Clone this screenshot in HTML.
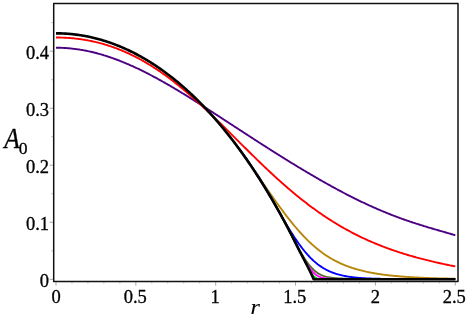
<!DOCTYPE html>
<html><head><meta charset="utf-8"><style>
html,body{margin:0;padding:0;background:#fff;}
svg{display:block;will-change:transform}
.t{font-family:"Liberation Serif",serif;font-size:18.5px;fill:#000;stroke:#000;stroke-width:0.3px}
.i{font-family:"Liberation Serif",serif;font-style:italic;fill:#000;stroke:#000;stroke-width:0.3px}
</style></head><body>
<svg width="469" height="318" viewBox="0 0 469 318">
<rect width="469" height="318" fill="#fff"/>
<line x1="56.00" y1="281.9" x2="56.00" y2="285.6" stroke="#a8a8a8" stroke-width="1"/>
<line x1="71.97" y1="281.9" x2="71.97" y2="283.8" stroke="#cccccc" stroke-width="1"/>
<line x1="87.94" y1="281.9" x2="87.94" y2="283.8" stroke="#cccccc" stroke-width="1"/>
<line x1="103.91" y1="281.9" x2="103.91" y2="283.8" stroke="#cccccc" stroke-width="1"/>
<line x1="119.88" y1="281.9" x2="119.88" y2="283.8" stroke="#cccccc" stroke-width="1"/>
<line x1="135.85" y1="281.9" x2="135.85" y2="285.6" stroke="#a8a8a8" stroke-width="1"/>
<line x1="151.82" y1="281.9" x2="151.82" y2="283.8" stroke="#cccccc" stroke-width="1"/>
<line x1="167.79" y1="281.9" x2="167.79" y2="283.8" stroke="#cccccc" stroke-width="1"/>
<line x1="183.76" y1="281.9" x2="183.76" y2="283.8" stroke="#cccccc" stroke-width="1"/>
<line x1="199.73" y1="281.9" x2="199.73" y2="283.8" stroke="#cccccc" stroke-width="1"/>
<line x1="215.70" y1="281.9" x2="215.70" y2="285.6" stroke="#a8a8a8" stroke-width="1"/>
<line x1="231.67" y1="281.9" x2="231.67" y2="283.8" stroke="#cccccc" stroke-width="1"/>
<line x1="247.64" y1="281.9" x2="247.64" y2="283.8" stroke="#cccccc" stroke-width="1"/>
<line x1="263.61" y1="281.9" x2="263.61" y2="283.8" stroke="#cccccc" stroke-width="1"/>
<line x1="279.58" y1="281.9" x2="279.58" y2="283.8" stroke="#cccccc" stroke-width="1"/>
<line x1="295.55" y1="281.9" x2="295.55" y2="285.6" stroke="#a8a8a8" stroke-width="1"/>
<line x1="311.52" y1="281.9" x2="311.52" y2="283.8" stroke="#cccccc" stroke-width="1"/>
<line x1="327.49" y1="281.9" x2="327.49" y2="283.8" stroke="#cccccc" stroke-width="1"/>
<line x1="343.46" y1="281.9" x2="343.46" y2="283.8" stroke="#cccccc" stroke-width="1"/>
<line x1="359.43" y1="281.9" x2="359.43" y2="283.8" stroke="#cccccc" stroke-width="1"/>
<line x1="375.40" y1="281.9" x2="375.40" y2="285.6" stroke="#a8a8a8" stroke-width="1"/>
<line x1="391.37" y1="281.9" x2="391.37" y2="283.8" stroke="#cccccc" stroke-width="1"/>
<line x1="407.34" y1="281.9" x2="407.34" y2="283.8" stroke="#cccccc" stroke-width="1"/>
<line x1="423.31" y1="281.9" x2="423.31" y2="283.8" stroke="#cccccc" stroke-width="1"/>
<line x1="439.28" y1="281.9" x2="439.28" y2="283.8" stroke="#cccccc" stroke-width="1"/>
<line x1="455.25" y1="281.9" x2="455.25" y2="285.6" stroke="#a8a8a8" stroke-width="1"/>
<line x1="49.6" y1="279.30" x2="53" y2="279.30" stroke="#a8a8a8" stroke-width="1"/>
<line x1="51" y1="250.79" x2="53" y2="250.79" stroke="#cccccc" stroke-width="1"/>
<line x1="49.6" y1="222.27" x2="53" y2="222.27" stroke="#a8a8a8" stroke-width="1"/>
<line x1="51" y1="193.75" x2="53" y2="193.75" stroke="#cccccc" stroke-width="1"/>
<line x1="49.6" y1="165.24" x2="53" y2="165.24" stroke="#a8a8a8" stroke-width="1"/>
<line x1="51" y1="136.73" x2="53" y2="136.73" stroke="#cccccc" stroke-width="1"/>
<line x1="49.6" y1="108.21" x2="53" y2="108.21" stroke="#a8a8a8" stroke-width="1"/>
<line x1="51" y1="79.69" x2="53" y2="79.69" stroke="#cccccc" stroke-width="1"/>
<line x1="49.6" y1="51.18" x2="53" y2="51.18" stroke="#a8a8a8" stroke-width="1"/>
<line x1="51" y1="22.67" x2="53" y2="22.67" stroke="#cccccc" stroke-width="1"/>
<path d="M56.00,47.72 L57.00,47.72 L58.00,47.73 L59.00,47.75 L60.00,47.77 L61.00,47.80 L62.00,47.84 L63.00,47.89 L64.00,47.94 L65.00,48.00 L66.00,48.06 L67.00,48.13 L68.00,48.21 L69.00,48.29 L70.00,48.38 L71.00,48.48 L72.00,48.59 L73.00,48.70 L74.00,48.82 L75.00,48.94 L76.00,49.07 L77.00,49.21 L78.00,49.35 L79.00,49.50 L80.00,49.66 L81.00,49.82 L82.00,49.99 L83.00,50.17 L84.00,50.35 L85.00,50.54 L86.00,50.73 L87.00,50.94 L88.00,51.14 L89.00,51.36 L90.00,51.58 L91.00,51.80 L92.00,52.04 L93.00,52.28 L94.00,52.52 L95.00,52.77 L96.00,53.03 L97.00,53.29 L98.00,53.56 L99.00,53.83 L100.00,54.11 L101.00,54.40 L102.00,54.69 L103.00,54.99 L104.00,55.29 L105.00,55.60 L106.00,55.92 L107.00,56.24 L108.00,56.57 L109.00,56.90 L110.00,57.24 L111.00,57.58 L112.00,57.93 L113.00,58.28 L114.00,58.64 L115.00,59.00 L116.00,59.37 L117.00,59.75 L118.00,60.13 L119.00,60.51 L120.00,60.90 L121.00,61.30 L122.00,61.70 L123.00,62.10 L124.00,62.51 L125.00,62.93 L126.00,63.34 L127.00,63.77 L128.00,64.20 L129.00,64.63 L130.00,65.07 L131.00,65.51 L132.00,65.96 L133.00,66.41 L134.00,66.87 L135.00,67.33 L136.00,67.79 L137.00,68.26 L138.00,68.73 L139.00,69.21 L140.00,69.69 L141.00,70.18 L142.00,70.67 L143.00,71.16 L144.00,71.66 L145.00,72.16 L146.00,72.66 L147.00,73.17 L148.00,73.68 L149.00,74.20 L150.00,74.72 L151.00,75.24 L152.00,75.77 L153.00,76.30 L154.00,76.83 L155.00,77.37 L156.00,77.91 L157.00,78.45 L158.00,79.00 L159.00,79.55 L160.00,80.10 L161.00,80.66 L162.00,81.21 L163.00,81.78 L164.00,82.34 L165.00,82.91 L166.00,83.48 L167.00,84.05 L168.00,84.63 L169.00,85.20 L170.00,85.79 L171.00,86.37 L172.00,86.96 L173.00,87.54 L174.00,88.13 L175.00,88.73 L176.00,89.32 L177.00,89.92 L178.00,90.52 L179.00,91.12 L180.00,91.73 L181.00,92.33 L182.00,92.94 L183.00,93.55 L184.00,94.16 L185.00,94.78 L186.00,95.39 L187.00,96.01 L188.00,96.63 L189.00,97.25 L190.00,97.87 L191.00,98.49 L192.00,99.12 L193.00,99.75 L194.00,100.38 L195.00,101.00 L196.00,101.64 L197.00,102.27 L198.00,102.90 L199.00,103.54 L200.00,104.17 L201.00,104.81 L202.00,105.45 L203.00,106.09 L204.00,106.73 L205.00,107.37 L206.00,108.01 L207.00,108.65 L208.00,109.30 L209.00,109.94 L210.00,110.59 L211.00,111.23 L212.00,111.88 L213.00,112.53 L214.00,113.18 L215.00,113.83 L216.00,114.47 L217.00,115.12 L218.00,115.77 L219.00,116.42 L220.00,117.08 L221.00,117.73 L222.00,118.38 L223.00,119.03 L224.00,119.68 L225.00,120.33 L226.00,120.99 L227.00,121.64 L228.00,122.29 L229.00,122.94 L230.00,123.60 L231.00,124.25 L232.00,124.90 L233.00,125.55 L234.00,126.21 L235.00,126.86 L236.00,127.51 L237.00,128.16 L238.00,128.82 L239.00,129.47 L240.00,130.12 L241.00,130.77 L242.00,131.42 L243.00,132.07 L244.00,132.72 L245.00,133.37 L246.00,134.02 L247.00,134.67 L248.00,135.32 L249.00,135.97 L250.00,136.62 L251.00,137.27 L252.00,137.91 L253.00,138.56 L254.00,139.21 L255.00,139.85 L256.00,140.50 L257.00,141.14 L258.00,141.78 L259.00,142.43 L260.00,143.07 L261.00,143.71 L262.00,144.35 L263.00,144.99 L264.00,145.63 L265.00,146.27 L266.00,146.91 L267.00,147.55 L268.00,148.18 L269.00,148.82 L270.00,149.45 L271.00,150.09 L272.00,150.72 L273.00,151.35 L274.00,151.99 L275.00,152.62 L276.00,153.25 L277.00,153.88 L278.00,154.50 L279.00,155.13 L280.00,155.76 L281.00,156.38 L282.00,157.00 L283.00,157.63 L284.00,158.25 L285.00,158.87 L286.00,159.49 L287.00,160.11 L288.00,160.73 L289.00,161.34 L290.00,161.96 L291.00,162.57 L292.00,163.19 L293.00,163.80 L294.00,164.41 L295.00,165.02 L296.00,165.63 L297.00,166.23 L298.00,166.84 L299.00,167.44 L300.00,168.05 L301.00,168.65 L302.00,169.25 L303.00,169.85 L304.00,170.45 L305.00,171.04 L306.00,171.64 L307.00,172.23 L308.00,172.82 L309.00,173.42 L310.00,174.01 L311.00,174.59 L312.00,175.18 L313.00,175.76 L313.65,176.14 L314.00,176.35 L315.00,176.93 L316.00,177.51 L317.00,178.09 L318.00,178.66 L319.00,179.24 L320.00,179.81 L321.00,180.39 L322.00,180.96 L323.00,181.52 L324.00,182.09 L325.00,182.65 L326.00,183.22 L327.00,183.78 L328.00,184.34 L329.00,184.89 L330.00,185.45 L331.00,186.00 L332.00,186.55 L333.00,187.10 L334.00,187.65 L335.00,188.20 L336.00,188.74 L337.00,189.28 L338.00,189.82 L339.00,190.35 L340.00,190.89 L341.00,191.42 L342.00,191.95 L343.00,192.48 L344.00,193.00 L345.00,193.53 L346.00,194.05 L347.00,194.56 L348.00,195.08 L349.00,195.59 L350.00,196.10 L351.00,196.61 L352.00,197.12 L353.00,197.62 L354.00,198.12 L355.00,198.62 L356.00,199.11 L357.00,199.60 L358.00,200.09 L359.00,200.58 L360.00,201.07 L361.00,201.55 L362.00,202.03 L363.00,202.50 L364.00,202.97 L365.00,203.44 L366.00,203.91 L367.00,204.38 L368.00,204.84 L369.00,205.30 L370.00,205.75 L371.00,206.21 L372.00,206.66 L373.00,207.10 L374.00,207.55 L375.00,207.99 L376.00,208.43 L377.00,208.86 L378.00,209.30 L379.00,209.73 L380.00,210.15 L381.00,210.57 L382.00,211.00 L383.00,211.41 L384.00,211.83 L385.00,212.24 L386.00,212.65 L387.00,213.05 L388.00,213.45 L389.00,213.85 L390.00,214.25 L391.00,214.64 L392.00,215.03 L393.00,215.42 L394.00,215.80 L395.00,216.19 L396.00,216.56 L397.00,216.94 L398.00,217.31 L399.00,217.68 L400.00,218.05 L401.00,218.41 L402.00,218.77 L403.00,219.13 L404.00,219.49 L405.00,219.84 L406.00,220.19 L407.00,220.54 L408.00,220.88 L409.00,221.22 L410.00,221.56 L411.00,221.90 L412.00,222.24 L413.00,222.57 L414.00,222.90 L415.00,223.22 L416.00,223.55 L417.00,223.87 L418.00,224.19 L419.00,224.51 L420.00,224.83 L421.00,225.14 L422.00,225.45 L423.00,225.76 L424.00,226.07 L425.00,226.38 L426.00,226.68 L427.00,226.98 L428.00,227.29 L429.00,227.58 L430.00,227.88 L431.00,228.18 L432.00,228.48 L433.00,228.77 L434.00,229.06 L435.00,229.36 L436.00,229.65 L437.00,229.94 L438.00,230.23 L439.00,230.52 L440.00,230.80 L441.00,231.09 L442.00,231.38 L443.00,231.67 L444.00,231.95 L445.00,232.24 L446.00,232.53 L447.00,232.82 L448.00,233.10 L449.00,233.39 L450.00,233.68 L451.00,233.97 L452.00,234.26 L453.00,234.55 L454.00,234.84 L455.30,235.23" fill="none" stroke="#4b0082" stroke-width="1.9" stroke-linejoin="round" stroke-linecap="butt"/>
<path d="M56.00,37.52 L57.00,37.52 L58.00,37.53 L59.00,37.54 L60.00,37.56 L61.00,37.58 L62.00,37.61 L63.00,37.65 L64.00,37.69 L65.00,37.73 L66.00,37.79 L67.00,37.84 L68.00,37.91 L69.00,37.98 L70.00,38.05 L71.00,38.13 L72.00,38.22 L73.00,38.31 L74.00,38.41 L75.00,38.52 L76.00,38.63 L77.00,38.75 L78.00,38.87 L79.00,39.00 L80.00,39.13 L81.00,39.27 L82.00,39.42 L83.00,39.58 L84.00,39.73 L85.00,39.90 L86.00,40.07 L87.00,40.25 L88.00,40.43 L89.00,40.62 L90.00,40.82 L91.00,41.02 L92.00,41.23 L93.00,41.45 L94.00,41.67 L95.00,41.90 L96.00,42.14 L97.00,42.38 L98.00,42.63 L99.00,42.88 L100.00,43.14 L101.00,43.41 L102.00,43.68 L103.00,43.96 L104.00,44.25 L105.00,44.55 L106.00,44.85 L107.00,45.16 L108.00,45.47 L109.00,45.79 L110.00,46.12 L111.00,46.45 L112.00,46.80 L113.00,47.15 L114.00,47.50 L115.00,47.86 L116.00,48.23 L117.00,48.61 L118.00,48.99 L119.00,49.38 L120.00,49.78 L121.00,50.19 L122.00,50.60 L123.00,51.02 L124.00,51.44 L125.00,51.88 L126.00,52.32 L127.00,52.77 L128.00,53.22 L129.00,53.68 L130.00,54.15 L131.00,54.63 L132.00,55.11 L133.00,55.60 L134.00,56.10 L135.00,56.61 L136.00,57.12 L137.00,57.64 L138.00,58.17 L139.00,58.70 L140.00,59.24 L141.00,59.79 L142.00,60.35 L143.00,60.91 L144.00,61.48 L145.00,62.06 L146.00,62.64 L147.00,63.23 L148.00,63.83 L149.00,64.44 L150.00,65.05 L151.00,65.67 L152.00,66.30 L153.00,66.94 L154.00,67.58 L155.00,68.23 L156.00,68.88 L157.00,69.55 L158.00,70.22 L159.00,70.90 L160.00,71.58 L161.00,72.27 L162.00,72.97 L163.00,73.67 L164.00,74.38 L165.00,75.10 L166.00,75.83 L167.00,76.56 L168.00,77.30 L169.00,78.04 L170.00,78.79 L171.00,79.55 L172.00,80.31 L173.00,81.08 L174.00,81.86 L175.00,82.64 L176.00,83.43 L177.00,84.23 L178.00,85.03 L179.00,85.83 L180.00,86.65 L181.00,87.46 L182.00,88.29 L183.00,89.12 L184.00,89.95 L185.00,90.80 L186.00,91.64 L187.00,92.49 L188.00,93.35 L189.00,94.21 L190.00,95.08 L191.00,95.95 L192.00,96.83 L193.00,97.71 L194.00,98.60 L195.00,99.49 L196.00,100.39 L197.00,101.29 L198.00,102.20 L199.00,103.11 L200.00,104.02 L201.00,104.94 L202.00,105.86 L203.00,106.79 L204.00,107.72 L205.00,108.65 L206.00,109.59 L207.00,110.53 L208.00,111.48 L209.00,112.42 L210.00,113.37 L211.00,114.33 L212.00,115.29 L213.00,116.25 L214.00,117.21 L215.00,118.17 L216.00,119.14 L217.00,120.11 L218.00,121.09 L219.00,122.06 L220.00,123.04 L221.00,124.02 L222.00,125.00 L223.00,125.98 L224.00,126.96 L225.00,127.95 L226.00,128.94 L227.00,129.93 L228.00,130.92 L229.00,131.91 L230.00,132.90 L231.00,133.89 L232.00,134.88 L233.00,135.88 L234.00,136.87 L235.00,137.86 L236.00,138.86 L237.00,139.85 L238.00,140.85 L239.00,141.84 L240.00,142.84 L241.00,143.83 L242.00,144.82 L243.00,145.82 L244.00,146.81 L245.00,147.80 L246.00,148.79 L247.00,149.78 L248.00,150.77 L249.00,151.76 L250.00,152.74 L251.00,153.72 L252.00,154.71 L253.00,155.69 L254.00,156.67 L255.00,157.64 L256.00,158.62 L257.00,159.59 L258.00,160.56 L259.00,161.53 L260.00,162.50 L261.00,163.46 L262.00,164.42 L263.00,165.38 L264.00,166.33 L265.00,167.28 L266.00,168.23 L267.00,169.18 L268.00,170.12 L269.00,171.06 L270.00,172.00 L271.00,172.93 L272.00,173.86 L273.00,174.78 L274.00,175.70 L275.00,176.62 L276.00,177.54 L277.00,178.45 L278.00,179.35 L279.00,180.26 L280.00,181.15 L281.00,182.05 L282.00,182.94 L283.00,183.82 L284.00,184.70 L285.00,185.58 L286.00,186.45 L287.00,187.32 L288.00,188.18 L289.00,189.04 L290.00,189.89 L291.00,190.74 L292.00,191.58 L293.00,192.42 L294.00,193.26 L295.00,194.08 L296.00,194.91 L297.00,195.73 L298.00,196.54 L299.00,197.35 L300.00,198.15 L301.00,198.95 L302.00,199.75 L303.00,200.53 L304.00,201.32 L305.00,202.09 L306.00,202.87 L307.00,203.63 L308.00,204.39 L309.00,205.15 L310.00,205.90 L311.00,206.65 L312.00,207.39 L313.00,208.12 L313.65,208.60 L314.00,208.85 L315.00,209.58 L316.00,210.30 L317.00,211.01 L318.00,211.72 L319.00,212.42 L320.00,213.11 L321.00,213.81 L322.00,214.49 L323.00,215.17 L324.00,215.85 L325.00,216.52 L326.00,217.18 L327.00,217.84 L328.00,218.49 L329.00,219.14 L330.00,219.78 L331.00,220.42 L332.00,221.05 L333.00,221.68 L334.00,222.30 L335.00,222.91 L336.00,223.52 L337.00,224.12 L338.00,224.72 L339.00,225.32 L340.00,225.91 L341.00,226.49 L342.00,227.07 L343.00,227.64 L344.00,228.21 L345.00,228.77 L346.00,229.32 L347.00,229.88 L348.00,230.42 L349.00,230.96 L350.00,231.50 L351.00,232.03 L352.00,232.56 L353.00,233.08 L354.00,233.60 L355.00,234.11 L356.00,234.61 L357.00,235.11 L358.00,235.61 L359.00,236.10 L360.00,236.59 L361.00,237.07 L362.00,237.55 L363.00,238.02 L364.00,238.49 L365.00,238.95 L366.00,239.41 L367.00,239.86 L368.00,240.31 L369.00,240.76 L370.00,241.20 L371.00,241.64 L372.00,242.07 L373.00,242.50 L374.00,242.92 L375.00,243.34 L376.00,243.75 L377.00,244.16 L378.00,244.57 L379.00,244.97 L380.00,245.37 L381.00,245.76 L382.00,246.15 L383.00,246.54 L384.00,246.92 L385.00,247.30 L386.00,247.67 L387.00,248.04 L388.00,248.41 L389.00,248.77 L390.00,249.13 L391.00,249.49 L392.00,249.84 L393.00,250.19 L394.00,250.53 L395.00,250.87 L396.00,251.21 L397.00,251.55 L398.00,251.88 L399.00,252.21 L400.00,252.53 L401.00,252.85 L402.00,253.17 L403.00,253.49 L404.00,253.80 L405.00,254.11 L406.00,254.41 L407.00,254.72 L408.00,255.01 L409.00,255.31 L410.00,255.61 L411.00,255.90 L412.00,256.19 L413.00,256.47 L414.00,256.75 L415.00,257.03 L416.00,257.31 L417.00,257.59 L418.00,257.86 L419.00,258.13 L420.00,258.39 L421.00,258.66 L422.00,258.92 L423.00,259.18 L424.00,259.44 L425.00,259.69 L426.00,259.94 L427.00,260.19 L428.00,260.44 L429.00,260.69 L430.00,260.93 L431.00,261.17 L432.00,261.41 L433.00,261.65 L434.00,261.88 L435.00,262.11 L436.00,262.34 L437.00,262.57 L438.00,262.80 L439.00,263.02 L440.00,263.24 L441.00,263.47 L442.00,263.68 L443.00,263.90 L444.00,264.11 L445.00,264.33 L446.00,264.54 L447.00,264.75 L448.00,264.95 L449.00,265.16 L450.00,265.36 L451.00,265.56 L452.00,265.76 L453.00,265.96 L454.00,266.15 L455.30,266.41" fill="none" stroke="#ff0000" stroke-width="1.9" stroke-linejoin="round" stroke-linecap="butt"/>
<path d="M208.00,110.99 L209.00,112.08 L210.00,113.17 L211.00,114.24 L212.00,115.32 L213.00,116.41 L214.00,117.51 L215.00,118.63 L216.00,119.76 L217.00,120.90 L218.00,122.06 L219.00,123.23 L220.00,124.41 L221.00,125.60 L222.00,126.81 L223.00,128.03 L224.00,129.26 L225.00,130.50 L226.00,131.76 L227.00,133.02 L228.00,134.29 L229.00,135.58 L230.00,136.87 L231.00,138.17 L232.00,139.46 L233.00,140.77 L234.00,142.08 L235.00,143.40 L236.00,144.73 L237.00,146.07 L238.00,147.42 L239.00,148.78 L240.00,150.14 L241.00,151.52 L242.00,152.91 L243.00,154.31 L244.00,155.72 L245.00,157.14 L246.00,158.57 L247.00,160.01 L248.00,161.45 L249.00,162.91 L250.00,164.38 L251.00,165.86 L252.00,167.30 L253.00,168.74 L254.00,170.19 L255.00,171.64 L256.00,173.08 L257.00,174.53 L258.00,175.98 L259.00,177.44 L260.00,178.89 L261.00,180.34 L262.00,181.79 L263.00,183.24 L264.00,184.68 L265.00,186.13 L266.00,187.57 L267.00,189.01 L268.00,190.45 L269.00,191.89 L270.00,193.32 L271.00,194.74 L272.00,196.16 L273.00,197.58 L274.00,198.99 L275.00,200.39 L276.00,201.79 L277.00,203.18 L278.00,204.56 L279.00,205.93 L280.00,207.30 L281.00,208.66 L282.00,210.00 L283.00,211.34 L284.00,212.67 L285.00,213.99 L286.00,215.30 L287.00,216.59 L288.00,217.88 L289.00,219.15 L290.00,220.41 L291.00,221.65 L292.00,222.89 L293.00,224.11 L294.00,225.31 L295.00,226.51 L296.00,227.68 L297.00,228.85 L298.00,230.00 L299.00,231.13 L300.00,232.24 L301.00,233.35 L302.00,234.43 L303.00,235.50 L304.00,236.55 L305.00,237.59 L306.00,238.61 L307.00,239.61 L308.00,240.59 L309.00,241.56 L310.00,242.51 L311.00,243.44 L312.00,244.36 L313.00,245.26 L313.65,245.83 L314.00,246.14 L315.00,247.00 L316.00,247.84 L317.00,248.67 L318.00,249.48 L319.00,250.27 L320.00,251.05 L321.00,251.81 L322.00,252.55 L323.00,253.27 L324.00,253.98 L325.00,254.67 L326.00,255.34 L327.00,256.00 L328.00,256.64 L329.00,257.26 L330.00,257.87 L331.00,258.46 L332.00,259.04 L333.00,259.60 L334.00,260.15 L335.00,260.69 L336.00,261.20 L337.00,261.71 L338.00,262.20 L339.00,262.68 L340.00,263.15 L341.00,263.60 L342.00,264.04 L343.00,264.47 L344.00,264.89 L345.00,265.29 L346.00,265.69 L347.00,266.07 L348.00,266.45 L349.00,266.81 L350.00,267.16 L351.00,267.51 L352.00,267.84 L353.00,268.16 L354.00,268.48 L355.00,268.78 L356.00,269.08 L357.00,269.37 L358.00,269.65 L359.00,269.93 L360.00,270.19 L361.00,270.45 L362.00,270.70 L363.00,270.94 L364.00,271.18 L365.00,271.41 L366.00,271.63 L367.00,271.85 L368.00,272.06 L369.00,272.26 L370.00,272.46 L371.00,272.66 L372.00,272.84 L373.00,273.03 L374.00,273.20 L375.00,273.37 L376.00,273.54 L377.00,273.70 L378.00,273.86 L379.00,274.01 L380.00,274.16 L381.00,274.31 L382.00,274.45 L383.00,274.58 L384.00,274.72 L385.00,274.84 L386.00,274.97 L387.00,275.09 L388.00,275.21 L389.00,275.32 L390.00,275.44 L391.00,275.54 L392.00,275.65 L393.00,275.75 L394.00,275.85 L395.00,275.95 L396.00,276.04 L397.00,276.13 L398.00,276.22 L399.00,276.31 L400.00,276.39 L401.00,276.47 L402.00,276.55 L403.00,276.63 L404.00,276.71 L405.00,276.78 L406.00,276.85 L407.00,276.92 L408.00,276.99 L409.00,277.05 L410.00,277.12 L411.00,277.18 L412.00,277.24 L413.00,277.30 L414.00,277.35 L415.00,277.41 L416.00,277.46 L417.00,277.52 L418.00,277.57 L419.00,277.62 L420.00,277.66 L421.00,277.71 L422.00,277.76 L423.00,277.80 L424.00,277.84 L425.00,277.88 L426.00,277.93 L427.00,277.96 L428.00,278.00 L429.00,278.04 L430.00,278.08 L431.00,278.11 L432.00,278.15 L433.00,278.18 L434.00,278.21 L435.00,278.24 L436.00,278.27 L437.00,278.30 L438.00,278.33 L439.00,278.36 L440.00,278.38 L441.00,278.41 L442.00,278.44 L443.00,278.46 L444.00,278.48 L445.00,278.51 L446.00,278.53 L447.00,278.55 L448.00,278.57 L449.00,278.59 L450.00,278.61 L451.00,278.62 L452.00,278.64 L453.00,278.66 L454.00,278.67 L455.30,278.69" fill="none" stroke="#b8860b" stroke-width="1.9" stroke-linejoin="round" stroke-linecap="butt"/>
<path d="M236.00,144.73 L237.00,146.07 L238.00,147.39 L239.00,148.67 L240.00,149.96 L241.00,151.28 L242.00,152.62 L243.00,153.98 L244.00,155.36 L245.00,156.76 L246.00,158.17 L247.00,159.61 L248.00,161.07 L249.00,162.54 L250.00,164.03 L251.00,165.54 L252.00,167.06 L253.00,168.60 L254.00,170.15 L255.00,171.72 L256.00,173.30 L257.00,174.90 L258.00,176.51 L259.00,178.07 L260.00,179.64 L261.00,181.23 L262.00,182.82 L263.00,184.43 L264.00,186.05 L265.00,187.67 L266.00,189.31 L267.00,190.96 L268.00,192.62 L269.00,194.29 L270.00,195.98 L271.00,197.67 L272.00,199.38 L273.00,201.09 L274.00,202.82 L275.00,204.56 L276.00,206.31 L277.00,208.07 L278.00,209.85 L279.00,211.63 L280.00,213.43 L281.00,215.24 L282.00,217.06 L283.00,218.89 L284.00,220.58 L285.00,222.25 L286.00,223.92 L287.00,225.57 L288.00,227.20 L289.00,228.82 L290.00,230.43 L291.00,232.02 L292.00,233.59 L293.00,235.14 L294.00,236.66 L295.00,238.17 L296.00,239.65 L297.00,241.11 L298.00,242.54 L299.00,243.94 L300.00,245.31 L301.00,246.66 L302.00,247.97 L303.00,249.26 L304.00,250.51 L305.00,251.73 L306.00,252.91 L307.00,254.06 L308.00,255.18 L309.00,256.26 L310.00,257.31 L311.00,258.32 L312.00,259.30 L313.00,260.24 L313.65,260.83 L314.00,261.15 L315.00,262.02 L316.00,262.86 L317.00,263.67 L318.00,264.45 L319.00,265.19 L320.00,265.91 L321.00,266.59 L322.00,267.25 L323.00,267.87 L324.00,268.47 L325.00,269.04 L326.00,269.59 L327.00,270.11 L328.00,270.60 L329.00,271.07 L330.00,271.52 L331.00,271.95 L332.00,272.35 L333.00,272.74 L334.00,273.10 L335.00,273.45 L336.00,273.78 L337.00,274.09 L338.00,274.38 L339.00,274.66 L340.00,274.92 L341.00,275.17 L342.00,275.41 L343.00,275.63 L344.00,275.84 L345.00,276.04 L346.00,276.23 L347.00,276.40 L348.00,276.57 L349.00,276.73 L350.00,276.88 L351.00,277.02 L352.00,277.15 L353.00,277.27 L354.00,277.39 L355.00,277.50 L356.00,277.60 L357.00,277.70 L358.00,277.79 L359.00,277.87 L360.00,277.95 L361.00,278.03 L362.00,278.10 L363.00,278.17 L364.00,278.23 L365.00,278.29 L366.00,278.34 L367.00,278.39 L368.00,278.44 L369.00,278.49 L370.00,278.53 L371.00,278.57 L372.00,278.60 L373.00,278.64 L374.00,278.67 L375.00,278.70 L376.00,278.73 L377.00,278.75 L378.00,278.78 L379.00,278.80 L380.00,278.82 L381.00,278.84 L382.00,278.86 L383.00,278.88 L384.00,278.89 L385.00,278.91 L386.00,278.92 L387.00,278.93 L388.00,278.94 L389.00,278.96 L390.00,278.97 L391.00,278.98 L392.00,278.98 L393.00,278.99 L394.00,279.00 L395.00,279.01 L396.00,279.01 L397.00,279.02 L398.00,279.02 L399.00,279.03 L400.00,279.04 L401.00,279.04 L402.00,279.04 L403.00,279.05 L404.00,279.05 L405.00,279.05 L406.00,279.06 L407.00,279.06 L408.00,279.06 L409.00,279.07 L410.00,279.07 L411.00,279.07 L412.00,279.07 L413.00,279.07 L414.00,279.08 L415.00,279.08 L416.00,279.08 L417.00,279.08 L418.00,279.08 L419.00,279.08 L420.00,279.08 L421.00,279.09 L422.00,279.09 L423.00,279.09 L424.00,279.09 L425.00,279.09 L426.00,279.09 L427.00,279.09 L428.00,279.09 L429.00,279.09 L430.00,279.09 L431.00,279.09 L432.00,279.09 L433.00,279.09 L434.00,279.09 L435.00,279.09 L436.00,279.10 L437.00,279.10 L438.00,279.10 L439.00,279.10 L440.00,279.10 L441.00,279.10 L442.00,279.10 L443.00,279.10 L444.00,279.10 L445.00,279.10 L446.00,279.10 L447.00,279.10 L448.00,279.10 L449.00,279.10 L450.00,279.10 L451.00,279.10 L452.00,279.10 L453.00,279.10 L454.00,279.10 L455.30,279.10" fill="none" stroke="#0000ff" stroke-width="1.9" stroke-linejoin="round" stroke-linecap="butt"/>
<path d="M246.00,158.57 L247.00,160.01 L248.00,161.45 L249.00,162.91 L250.00,164.33 L251.00,165.65 L252.00,167.01 L253.00,168.39 L254.00,169.81 L255.00,171.25 L256.00,172.72 L257.00,174.21 L258.00,175.73 L259.00,177.28 L260.00,178.85 L261.00,180.44 L262.00,182.05 L263.00,183.69 L264.00,185.34 L265.00,187.02 L266.00,188.71 L267.00,190.43 L268.00,192.16 L269.00,193.90 L270.00,195.67 L271.00,197.45 L272.00,199.24 L273.00,201.05 L274.00,202.82 L275.00,204.56 L276.00,206.31 L277.00,208.07 L278.00,209.85 L279.00,211.63 L280.00,213.43 L281.00,215.24 L282.00,217.06 L283.00,218.89 L284.00,220.73 L285.00,222.59 L286.00,224.46 L287.00,226.34 L288.00,228.23 L289.00,230.14 L290.00,232.05 L291.00,233.98 L292.00,235.92 L293.00,237.88 L294.00,239.84 L295.00,241.82 L296.00,243.81 L297.00,245.82 L298.00,247.66 L299.00,249.41 L300.00,251.14 L301.00,252.83 L302.00,254.49 L303.00,256.11 L304.00,257.68 L305.00,259.21 L306.00,260.68 L307.00,262.10 L308.00,263.45 L309.00,264.74 L310.00,265.97 L311.00,267.13 L312.00,268.21 L313.00,269.23 L313.65,269.84 L314.00,270.17 L315.00,271.04 L316.00,271.84 L317.00,272.57 L318.00,273.24 L319.00,273.85 L320.00,274.40 L321.00,274.89 L322.00,275.33 L323.00,275.73 L324.00,276.08 L325.00,276.40 L326.00,276.68 L327.00,276.93 L328.00,277.15 L329.00,277.35 L330.00,277.52 L331.00,277.68 L332.00,277.81 L333.00,277.93 L334.00,278.04 L335.00,278.14 L336.00,278.22 L337.00,278.30 L338.00,278.36 L339.00,278.42 L340.00,278.47 L341.00,278.52 L342.00,278.57 L343.00,278.61 L344.00,278.64 L345.00,278.68 L346.00,278.71 L347.00,278.74 L348.00,278.77 L349.00,278.79 L350.00,278.82 L351.00,278.84 L352.00,278.86 L353.00,278.88 L354.00,278.90 L355.00,278.91 L356.00,278.93 L357.00,278.94 L358.00,278.95 L359.00,278.96 L360.00,278.97 L361.00,278.98 L362.00,278.99 L363.00,279.00 L364.00,279.01 L365.00,279.02 L366.00,279.02 L367.00,279.03 L368.00,279.03 L369.00,279.04 L370.00,279.04 L371.00,279.05 L372.00,279.05 L373.00,279.06 L374.00,279.06 L375.00,279.06 L376.00,279.07 L377.00,279.07 L378.00,279.07 L379.00,279.07 L380.00,279.07 L381.00,279.08 L382.00,279.08 L383.00,279.08 L384.00,279.08 L385.00,279.08 L386.00,279.08 L387.00,279.09 L388.00,279.09 L389.00,279.09 L390.00,279.09 L391.00,279.09 L392.00,279.09 L393.00,279.09 L394.00,279.09 L395.00,279.09 L396.00,279.09 L397.00,279.09 L398.00,279.09 L399.00,279.09 L400.00,279.10 L401.00,279.10 L402.00,279.10 L403.00,279.10 L404.00,279.10 L405.00,279.10 L406.00,279.10 L407.00,279.10 L408.00,279.10 L409.00,279.10 L410.00,279.10 L411.00,279.10 L412.00,279.10 L413.00,279.10 L414.00,279.10 L415.00,279.10 L416.00,279.10 L417.00,279.10 L418.00,279.10 L419.00,279.10 L420.00,279.10 L421.00,279.10 L422.00,279.10 L423.00,279.10 L424.00,279.10 L425.00,279.10 L426.00,279.10 L427.00,279.10 L428.00,279.10 L429.00,279.10 L430.00,279.10 L431.00,279.10 L432.00,279.10 L433.00,279.10 L434.00,279.10 L435.00,279.10 L436.00,279.10 L437.00,279.10 L438.00,279.10 L439.00,279.10 L440.00,279.10 L441.00,279.10 L442.00,279.10 L443.00,279.10 L444.00,279.10 L445.00,279.10 L446.00,279.10 L447.00,279.10 L448.00,279.10 L449.00,279.10 L450.00,279.10 L451.00,279.10 L452.00,279.10 L453.00,279.10 L454.00,279.10 L455.30,279.10" fill="none" stroke="#556b2f" stroke-width="1.9" stroke-linejoin="round" stroke-linecap="butt"/>
<path d="M254.00,170.36 L255.00,171.88 L256.00,173.41 L257.00,174.93 L258.00,176.37 L259.00,177.84 L260.00,179.33 L261.00,180.85 L262.00,182.40 L263.00,183.96 L264.00,185.55 L265.00,187.17 L266.00,188.80 L267.00,190.46 L268.00,192.14 L269.00,193.84 L270.00,195.55 L271.00,197.29 L272.00,199.04 L273.00,200.81 L274.00,202.59 L275.00,204.39 L276.00,206.20 L277.00,208.03 L278.00,209.85 L279.00,211.63 L280.00,213.43 L281.00,215.24 L282.00,217.06 L283.00,218.89 L284.00,220.73 L285.00,222.59 L286.00,224.46 L287.00,226.34 L288.00,228.23 L289.00,230.14 L290.00,232.05 L291.00,233.98 L292.00,235.92 L293.00,237.88 L294.00,239.84 L295.00,241.82 L296.00,243.81 L297.00,245.82 L298.00,247.83 L299.00,249.84 L300.00,251.79 L301.00,253.64 L302.00,255.47 L303.00,257.27 L304.00,259.03 L305.00,260.75 L306.00,262.43 L307.00,264.05 L308.00,265.60 L309.00,267.08 L310.00,268.47 L311.00,269.77 L312.00,270.98 L313.00,272.08 L313.65,272.73 L314.00,273.07 L315.00,273.96 L316.00,274.74 L317.00,275.43 L318.00,276.02 L319.00,276.52 L320.00,276.95 L321.00,277.31 L322.00,277.61 L323.00,277.87 L324.00,278.08 L325.00,278.25 L326.00,278.39 L327.00,278.51 L328.00,278.61 L329.00,278.69 L330.00,278.76 L331.00,278.82 L332.00,278.87 L333.00,278.91 L334.00,278.94 L335.00,278.97 L336.00,278.99 L337.00,279.01 L338.00,279.02 L339.00,279.04 L340.00,279.05 L341.00,279.06 L342.00,279.06 L343.00,279.07 L344.00,279.08 L345.00,279.08 L346.00,279.08 L347.00,279.09 L348.00,279.09 L349.00,279.09 L350.00,279.09 L351.00,279.09 L352.00,279.09 L353.00,279.10 L354.00,279.10 L355.00,279.10 L356.00,279.10 L357.00,279.10 L358.00,279.10 L359.00,279.10 L360.00,279.10 L361.00,279.10 L362.00,279.10 L363.00,279.10 L364.00,279.10 L365.00,279.10 L366.00,279.10 L367.00,279.10 L368.00,279.10 L369.00,279.10 L370.00,279.10 L371.00,279.10 L372.00,279.10 L373.00,279.10 L374.00,279.10 L375.00,279.10 L376.00,279.10 L377.00,279.10 L378.00,279.10 L379.00,279.10 L380.00,279.10 L381.00,279.10 L382.00,279.10 L383.00,279.10 L384.00,279.10 L385.00,279.10 L386.00,279.10 L387.00,279.10 L388.00,279.10 L389.00,279.10 L390.00,279.10 L391.00,279.10 L392.00,279.10 L393.00,279.10 L394.00,279.10 L395.00,279.10 L396.00,279.10 L397.00,279.10 L398.00,279.10 L399.00,279.10 L400.00,279.10 L401.00,279.10 L402.00,279.10 L403.00,279.10 L404.00,279.10 L405.00,279.10 L406.00,279.10 L407.00,279.10 L408.00,279.10 L409.00,279.10 L410.00,279.10 L411.00,279.10 L412.00,279.10 L413.00,279.10 L414.00,279.10 L415.00,279.10 L416.00,279.10 L417.00,279.10 L418.00,279.10 L419.00,279.10 L420.00,279.10 L421.00,279.10 L422.00,279.10 L423.00,279.10 L424.00,279.10 L425.00,279.10 L426.00,279.10 L427.00,279.10 L428.00,279.10 L429.00,279.10 L430.00,279.10 L431.00,279.10 L432.00,279.10 L433.00,279.10 L434.00,279.10 L435.00,279.10 L436.00,279.10 L437.00,279.10 L438.00,279.10 L439.00,279.10 L440.00,279.10 L441.00,279.10 L442.00,279.10 L443.00,279.10 L444.00,279.10 L445.00,279.10 L446.00,279.10 L447.00,279.10 L448.00,279.10 L449.00,279.10 L450.00,279.10 L451.00,279.10 L452.00,279.10 L453.00,279.10 L454.00,279.10 L455.30,279.10" fill="none" stroke="#ff00ff" stroke-width="1.9" stroke-linejoin="round" stroke-linecap="butt"/>
<path d="M261.00,181.23 L262.00,182.82 L263.00,184.43 L264.00,185.99 L265.00,187.55 L266.00,189.13 L267.00,190.74 L268.00,192.37 L269.00,194.02 L270.00,195.69 L271.00,197.38 L272.00,199.08 L273.00,200.81 L274.00,202.56 L275.00,204.32 L276.00,206.10 L277.00,207.89 L278.00,209.70 L279.00,211.52 L280.00,213.36 L281.00,215.21 L282.00,217.06 L283.00,218.89 L284.00,220.73 L285.00,222.59 L286.00,224.46 L287.00,226.34 L288.00,228.23 L289.00,230.14 L290.00,232.05 L291.00,233.98 L292.00,235.92 L293.00,237.88 L294.00,239.84 L295.00,241.82 L296.00,243.81 L297.00,245.82 L298.00,247.83 L299.00,249.84 L300.00,251.80 L301.00,253.74 L302.00,255.66 L303.00,257.57 L304.00,259.48 L305.00,261.40 L306.00,263.33 L307.00,265.27 L308.00,267.24 L309.00,269.25 L310.00,271.00 L311.00,272.65 L312.00,274.14 L313.00,275.44 L313.65,276.15 L314.00,276.50 L315.00,277.33 L316.00,277.93 L317.00,278.35 L318.00,278.62 L319.00,278.80 L320.00,278.91 L321.00,278.98 L322.00,279.03 L323.00,279.06 L324.00,279.07 L325.00,279.08 L326.00,279.09 L327.00,279.09 L328.00,279.10 L329.00,279.10 L330.00,279.10 L331.00,279.10 L332.00,279.10 L333.00,279.10 L334.00,279.10 L335.00,279.10 L336.00,279.10 L337.00,279.10 L338.00,279.10 L339.00,279.10 L340.00,279.10 L341.00,279.10 L342.00,279.10 L343.00,279.10 L344.00,279.10 L345.00,279.10 L346.00,279.10 L347.00,279.10 L348.00,279.10 L349.00,279.10 L350.00,279.10 L351.00,279.10 L352.00,279.10 L353.00,279.10 L354.00,279.10 L355.00,279.10 L356.00,279.10 L357.00,279.10 L358.00,279.10 L359.00,279.10 L360.00,279.10 L361.00,279.10 L362.00,279.10 L363.00,279.10 L364.00,279.10 L365.00,279.10 L366.00,279.10 L367.00,279.10 L368.00,279.10 L369.00,279.10 L370.00,279.10 L371.00,279.10 L372.00,279.10 L373.00,279.10 L374.00,279.10 L375.00,279.10 L376.00,279.10 L377.00,279.10 L378.00,279.10 L379.00,279.10 L380.00,279.10 L381.00,279.10 L382.00,279.10 L383.00,279.10 L384.00,279.10 L385.00,279.10 L386.00,279.10 L387.00,279.10 L388.00,279.10 L389.00,279.10 L390.00,279.10 L391.00,279.10 L392.00,279.10 L393.00,279.10 L394.00,279.10 L395.00,279.10 L396.00,279.10 L397.00,279.10 L398.00,279.10 L399.00,279.10 L400.00,279.10 L401.00,279.10 L402.00,279.10 L403.00,279.10 L404.00,279.10 L405.00,279.10 L406.00,279.10 L407.00,279.10 L408.00,279.10 L409.00,279.10 L410.00,279.10 L411.00,279.10 L412.00,279.10 L413.00,279.10 L414.00,279.10 L415.00,279.10 L416.00,279.10 L417.00,279.10 L418.00,279.10 L419.00,279.10 L420.00,279.10 L421.00,279.10 L422.00,279.10 L423.00,279.10 L424.00,279.10 L425.00,279.10 L426.00,279.10 L427.00,279.10 L428.00,279.10 L429.00,279.10 L430.00,279.10 L431.00,279.10 L432.00,279.10 L433.00,279.10 L434.00,279.10 L435.00,279.10 L436.00,279.10 L437.00,279.10 L438.00,279.10 L439.00,279.10 L440.00,279.10 L441.00,279.10 L442.00,279.10 L443.00,279.10 L444.00,279.10 L445.00,279.10 L446.00,279.10 L447.00,279.10 L448.00,279.10 L449.00,279.10 L450.00,279.10 L451.00,279.10 L452.00,279.10 L453.00,279.10 L454.00,279.10 L455.30,279.10" fill="none" stroke="#00d000" stroke-width="1.9" stroke-linejoin="round" stroke-linecap="butt"/>
<path d="M56.00,33.34 L57.00,33.35 L58.00,33.36 L59.00,33.37 L60.00,33.39 L61.00,33.42 L62.00,33.46 L63.00,33.50 L64.00,33.55 L65.00,33.60 L66.00,33.66 L67.00,33.73 L68.00,33.80 L69.00,33.88 L70.00,33.97 L71.00,34.06 L72.00,34.16 L73.00,34.26 L74.00,34.37 L75.00,34.49 L76.00,34.62 L77.00,34.75 L78.00,34.88 L79.00,35.03 L80.00,35.18 L81.00,35.33 L82.00,35.49 L83.00,35.66 L84.00,35.84 L85.00,36.02 L86.00,36.21 L87.00,36.40 L88.00,36.60 L89.00,36.81 L90.00,37.03 L91.00,37.25 L92.00,37.47 L93.00,37.71 L94.00,37.95 L95.00,38.19 L96.00,38.45 L97.00,38.71 L98.00,38.97 L99.00,39.24 L100.00,39.52 L101.00,39.81 L102.00,40.10 L103.00,40.40 L104.00,40.70 L105.00,41.02 L106.00,41.33 L107.00,41.66 L108.00,41.99 L109.00,42.33 L110.00,42.67 L111.00,43.02 L112.00,43.38 L113.00,43.75 L114.00,44.12 L115.00,44.50 L116.00,44.88 L117.00,45.27 L118.00,45.67 L119.00,46.07 L120.00,46.49 L121.00,46.90 L122.00,47.33 L123.00,47.76 L124.00,48.20 L125.00,48.64 L126.00,49.10 L127.00,49.56 L128.00,50.02 L129.00,50.49 L130.00,50.97 L131.00,51.46 L132.00,51.95 L133.00,52.45 L134.00,52.96 L135.00,53.47 L136.00,53.99 L137.00,54.52 L138.00,55.06 L139.00,55.60 L140.00,56.15 L141.00,56.70 L142.00,57.27 L143.00,57.84 L144.00,58.41 L145.00,59.00 L146.00,59.59 L147.00,60.19 L148.00,60.79 L149.00,61.40 L150.00,62.02 L151.00,62.65 L152.00,63.29 L153.00,63.93 L154.00,64.58 L155.00,65.23 L156.00,65.90 L157.00,66.57 L158.00,67.24 L159.00,67.93 L160.00,68.62 L161.00,69.32 L162.00,70.03 L163.00,70.74 L164.00,71.47 L165.00,72.20 L166.00,72.93 L167.00,73.68 L168.00,74.43 L169.00,75.19 L170.00,75.96 L171.00,76.73 L172.00,77.52 L173.00,78.31 L174.00,79.11 L175.00,79.91 L176.00,80.72 L177.00,81.55 L178.00,82.37 L179.00,83.21 L180.00,84.06 L181.00,84.91 L182.00,85.77 L183.00,86.64 L184.00,87.51 L185.00,88.40 L186.00,89.29 L187.00,90.19 L188.00,91.10 L189.00,92.02 L190.00,92.94 L191.00,93.87 L192.00,94.81 L193.00,95.76 L194.00,96.72 L195.00,97.68 L196.00,98.66 L197.00,99.64 L198.00,100.63 L199.00,101.63 L200.00,102.63 L201.00,103.65 L202.00,104.67 L203.00,105.71 L204.00,106.75 L205.00,107.80 L206.00,108.85 L207.00,109.92 L208.00,110.99 L209.00,112.08 L210.00,113.17 L211.00,114.27 L212.00,115.38 L213.00,116.50 L214.00,117.63 L215.00,118.76 L216.00,119.91 L217.00,121.06 L218.00,122.22 L219.00,123.40 L220.00,124.58 L221.00,125.77 L222.00,126.97 L223.00,128.17 L224.00,129.39 L225.00,130.62 L226.00,131.85 L227.00,133.10 L228.00,134.35 L229.00,135.62 L230.00,136.89 L231.00,138.17 L232.00,139.46 L233.00,140.77 L234.00,142.08 L235.00,143.40 L236.00,144.73 L237.00,146.07 L238.00,147.42 L239.00,148.78 L240.00,150.14 L241.00,151.52 L242.00,152.91 L243.00,154.31 L244.00,155.72 L245.00,157.14 L246.00,158.57 L247.00,160.01 L248.00,161.45 L249.00,162.91 L250.00,164.38 L251.00,165.86 L252.00,167.35 L253.00,168.85 L254.00,170.36 L255.00,171.88 L256.00,173.41 L257.00,174.96 L258.00,176.51 L259.00,178.07 L260.00,179.64 L261.00,181.23 L262.00,182.82 L263.00,184.43 L264.00,186.05 L265.00,187.67 L266.00,189.31 L267.00,190.96 L268.00,192.62 L269.00,194.29 L270.00,195.98 L271.00,197.67 L272.00,199.38 L273.00,201.09 L274.00,202.82 L275.00,204.56 L276.00,206.31 L277.00,208.07 L278.00,209.85 L279.00,211.63 L280.00,213.43 L281.00,215.24 L282.00,217.06 L283.00,218.89 L284.00,220.73 L285.00,222.59 L286.00,224.46 L287.00,226.34 L288.00,228.23 L289.00,230.14 L290.00,232.05 L291.00,233.98 L292.00,235.92 L293.00,237.88 L294.00,239.84 L295.00,241.82 L296.00,243.81 L297.00,245.82 L298.00,247.83 L299.00,249.84 L300.00,251.80 L301.00,253.74 L302.00,255.66 L303.00,257.57 L304.00,259.48 L305.00,261.40 L306.00,263.33 L307.00,265.27 L308.00,267.24 L309.00,269.25 L310.00,271.29 L311.00,273.40 L312.00,275.56 L313.00,277.77 L313.65,279.20 L314.00,279.20 L315.00,279.20 L316.00,279.20 L317.00,279.20 L318.00,279.20 L319.00,279.20 L320.00,279.20 L321.00,279.20 L322.00,279.20 L323.00,279.20 L324.00,279.20 L325.00,279.20 L326.00,279.20 L327.00,279.20 L328.00,279.20 L329.00,279.20 L330.00,279.20 L331.00,279.20 L332.00,279.20 L333.00,279.20 L334.00,279.20 L335.00,279.20 L336.00,279.20 L337.00,279.20 L338.00,279.20 L339.00,279.20 L340.00,279.20 L341.00,279.20 L342.00,279.20 L343.00,279.20 L344.00,279.20 L345.00,279.20 L346.00,279.20 L347.00,279.20 L348.00,279.20 L349.00,279.20 L350.00,279.20 L351.00,279.20 L352.00,279.20 L353.00,279.20 L354.00,279.20 L355.00,279.20 L356.00,279.20 L357.00,279.20 L358.00,279.20 L359.00,279.20 L360.00,279.20 L361.00,279.20 L362.00,279.20 L363.00,279.20 L364.00,279.20 L365.00,279.20 L366.00,279.20 L367.00,279.20 L368.00,279.20 L369.00,279.20 L370.00,279.20 L371.00,279.20 L372.00,279.20 L373.00,279.20 L374.00,279.20 L375.00,279.20 L376.00,279.20 L377.00,279.20 L378.00,279.20 L379.00,279.20 L380.00,279.20 L381.00,279.20 L382.00,279.20 L383.00,279.20 L384.00,279.20 L385.00,279.20 L386.00,279.20 L387.00,279.20 L388.00,279.20 L389.00,279.20 L390.00,279.20 L391.00,279.20 L392.00,279.20 L393.00,279.20 L394.00,279.20 L395.00,279.20 L396.00,279.20 L397.00,279.20 L398.00,279.20 L399.00,279.20 L400.00,279.20 L401.00,279.20 L402.00,279.20 L403.00,279.20 L404.00,279.20 L405.00,279.20 L406.00,279.20 L407.00,279.20 L408.00,279.20 L409.00,279.20 L410.00,279.20 L411.00,279.20 L412.00,279.20 L413.00,279.20 L414.00,279.20 L415.00,279.20 L416.00,279.20 L417.00,279.20 L418.00,279.20 L419.00,279.20 L420.00,279.20 L421.00,279.20 L422.00,279.20 L423.00,279.20 L424.00,279.20 L425.00,279.20 L426.00,279.20 L427.00,279.20 L428.00,279.20 L429.00,279.20 L430.00,279.20 L431.00,279.20 L432.00,279.20 L433.00,279.20 L434.00,279.20 L435.00,279.20 L436.00,279.20 L437.00,279.20 L438.00,279.20 L439.00,279.20 L440.00,279.20 L441.00,279.20 L442.00,279.20 L443.00,279.20 L444.00,279.20 L445.00,279.20 L446.00,279.20 L447.00,279.20 L448.00,279.20 L449.00,279.20 L450.00,279.20 L451.00,279.20 L452.00,279.20 L453.00,279.20 L454.00,279.20 L455.30,279.20" fill="none" stroke="#000000" stroke-width="2.6" stroke-linejoin="round" stroke-linecap="butt"/>
<rect x="53.7" y="3.6" width="404.3" height="277.9" fill="none" stroke="#111" stroke-width="1.5" stroke-linejoin="round"/>
<text x="56.0" y="303" text-anchor="middle" class="t">0</text>
<text x="135.2" y="303" text-anchor="middle" class="t">0.5</text>
<text x="215.0" y="303" text-anchor="middle" class="t">1</text>
<text x="294.8" y="303" text-anchor="middle" class="t">1.5</text>
<text x="375.4" y="303" text-anchor="middle" class="t">2</text>
<text x="454.2" y="303" text-anchor="middle" class="t">2.5</text>
<text x="49.1" y="286.8" text-anchor="end" class="t">0</text>
<text x="49.1" y="229.8" text-anchor="end" class="t">0.1</text>
<text x="49.1" y="172.7" text-anchor="end" class="t">0.2</text>
<text x="49.1" y="115.7" text-anchor="end" class="t">0.3</text>
<text x="49.1" y="58.7" text-anchor="end" class="t">0.4</text>
<text transform="translate(4.15,148.4) scale(0.85,1)" class="i" font-size="30">A</text>
<text x="18.8" y="154.0" class="t" style="font-size:17.6px">0</text>
<text transform="translate(250.4,314.4) scale(1.12,1)" class="i" style="stroke-width:0.1px" font-size="21.5">r</text>
</svg>
</body></html>
